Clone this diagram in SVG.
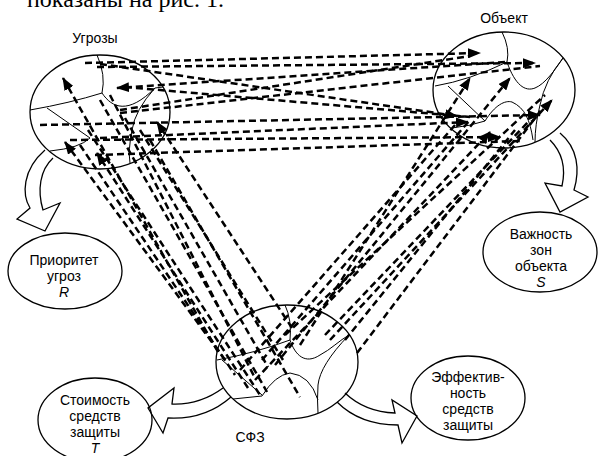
<svg xmlns="http://www.w3.org/2000/svg" width="600" height="456" viewBox="0 0 600 456">
<defs>
<style>
.lbl{font-family:"Liberation Sans",Arial,sans-serif;font-size:14px;fill:#000;text-anchor:middle}
.it{font-style:italic}
.ell{fill:none;stroke:#000;stroke-width:1.3}
.zone{fill:none;stroke:#000;stroke-width:1}
.blk{fill:#fff;stroke:#000;stroke-width:1.3;stroke-linejoin:miter}
.dl{fill:none;stroke:#000;stroke-width:2.5;stroke-dasharray:7 4}
.ar{marker-end:url(#ah)}
</style>
<marker id="ah" markerUnits="userSpaceOnUse" markerWidth="13" markerHeight="10" refX="12" refY="5" orient="auto">
<path d="M0,0 L13,5 L0,10 z" fill="#000"/>
</marker>
</defs>
<rect width="600" height="456" fill="#fff"/>
<text x="27" y="7" font-family="Liberation Serif,serif" font-size="24">показаны на рис. 1.</text>

<g id="arrows-block">
<path class="blk" d="M45,150 C22,170 22,195 30,208 L17,219 L45,231 L60,203 L43,210 C37,190 40,170 53,158"/>
<path class="blk" d="M560,133 C578,148 580,170 574,190 L588,197 L560,212 L545,183 L562,186 C566,168 562,152 550,140"/>
<path class="blk" d="M223,388 Q200,405 172,404 L174,388 L148,408 L163,433 L168,418 Q205,420 231,397"/>
<path class="blk" d="M345,393 Q365,412 395,413 L392,400 L417,416 L402,443 L398,425 Q360,425 337,402"/>
</g>

<g id="threats">
<ellipse class="ell" cx="100" cy="112" rx="70" ry="57"/>
<path class="zone" d="M97,55 Q106,75 102,93 Q70,103 30,110"/>
<path class="zone" d="M102,93 C112,108 128,115 155,88 L163,87"/>
<path class="zone" d="M47,108 L90,138 Q80,148 50,151"/>
<path class="zone" d="M155,88 Q135,110 132,130 Q128,150 130,163"/>
<text class="lbl" x="95" y="43">Угрозы</text>
</g>

<g id="object">
<ellipse class="ell" cx="504" cy="90" rx="71" ry="58"/>
<path class="zone" d="M502,32 Q510,48 507,62 Q470,80 435,86"/>
<path class="zone" d="M507,62 C515,85 525,92 535,88 C545,84 555,70 563,58"/>
<path class="zone" d="M563,58 Q545,80 540,105 Q535,125 535,142"/>
<path class="zone" d="M448,86 L485,121 Q470,126 452,128"/>
<path class="zone" d="M485,121 C495,105 505,100 512,102 C525,108 530,120 533,140"/>
<text class="lbl" x="504" y="23">Объект</text>
</g>

<g id="sfz">
<ellipse class="ell" cx="287" cy="362" rx="71" ry="57"/>
<path class="zone" d="M285,305 Q292,320 290,340 Q255,353 217,360"/>
<path class="zone" d="M290,340 C295,355 305,365 320,355 C330,350 340,340 349,335"/>
<path class="zone" d="M349,335 Q320,365 318,385 Q317,400 318,413"/>
<path class="zone" d="M222,360 L262,395"/>
<path class="zone" d="M233,399 L262,396 Q275,375 290,373 Q310,375 318,400"/>
<text class="lbl" x="250" y="442">СФЗ</text>
</g>

<g id="priority">
<ellipse class="ell" cx="65" cy="271" rx="57" ry="38"/>
<text class="lbl" x="64" y="265">Приоритет</text>
<text class="lbl" x="64" y="281">угроз</text>
<text class="lbl it" x="64" y="297">R</text>
</g>

<g id="importance">
<ellipse class="ell" cx="540" cy="252" rx="57" ry="40"/>
<text class="lbl" x="541" y="239">Важность</text>
<text class="lbl" x="541" y="255">зон</text>
<text class="lbl" x="541" y="271">объекта</text>
<text class="lbl it" x="541" y="287">S</text>
</g>

<g id="cost">
<ellipse class="ell" cx="95" cy="420" rx="57" ry="42"/>
<text class="lbl" x="95" y="405">Стоимость</text>
<text class="lbl" x="95" y="421">средств</text>
<text class="lbl" x="95" y="437">защиты</text>
<text class="lbl it" x="95" y="453">T</text>
</g>

<g id="efficiency">
<ellipse class="ell" cx="468" cy="398" rx="57" ry="42"/>
<text class="lbl" x="468" y="382">Эффектив-</text>
<text class="lbl" x="468" y="398">ность</text>
<text class="lbl" x="468" y="414">средств</text>
<text class="lbl" x="468" y="430">защиты</text>
</g>

<g id="connectors">
<path class="dl ar" d="M85,63 L480,53"/>
<path class="dl ar" d="M97,67 L535,63"/>
<path class="dl ar" d="M100,64 L457,116"/>
<path class="dl ar" d="M505,62 L117,88"/>
<path class="dl ar" d="M40,125 L540,115"/>
<path class="dl ar" d="M100,138 L468,122"/>
<path class="dl ar" d="M70,140 L500,137"/>
<path class="dl" d="M95,155 L520,141"/>
<path class="dl" d="M120,110 L470,56"/>
<path class="dl" d="M120,113 L540,66"/>
<path class="dl" d="M125,87 L470,117"/>

<path class="dl ar" d="M218,352 L63,78"/>
<path class="dl ar" d="M225,360 L65,142"/>
<path class="dl ar" d="M248,388 L97,153"/>
<path class="dl" d="M80,145 L235,375"/>
<path class="dl ar" d="M292,328 L157,122"/>
<path class="dl" d="M100,100 L267,392"/>
<path class="dl" d="M110,95 L255,378"/>
<path class="dl" d="M125,118 L268,367"/>
<path class="dl" d="M140,130 L283,360"/>
<path class="dl" d="M150,140 L300,397"/>
<path class="dl" d="M88,130 L260,395"/>

<path class="dl ar" d="M300,345 L470,78"/>
<path class="dl ar" d="M275,365 L510,78"/>
<path class="dl ar" d="M330,340 L552,100"/>
<path class="dl ar" d="M255,380 L490,132"/>
<path class="dl" d="M262,360 L470,120"/>
<path class="dl" d="M357,353 L545,105"/>
<path class="dl" d="M325,335 L530,120"/>
<path class="dl" d="M285,335 L545,95"/>
<path class="dl" d="M240,370 L455,125"/>
<path class="dl" d="M345,340 L515,130"/>
</g>
</svg>
